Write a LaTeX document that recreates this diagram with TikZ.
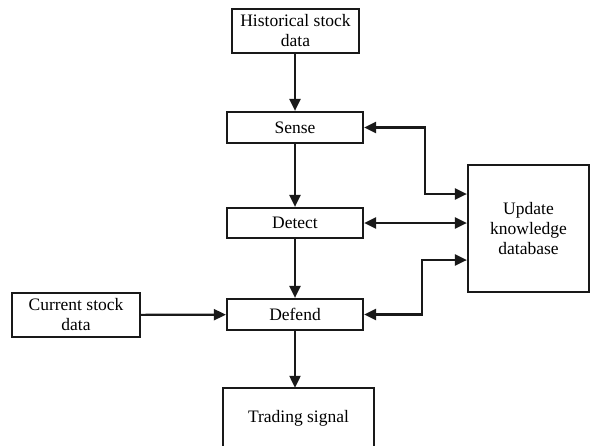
\documentclass[tikz,border=0pt]{standalone}
\usepackage{fontspec}
\setmainfont{Liberation Serif}
\usetikzlibrary{arrows.meta}
\begin{document}
\begin{tikzpicture}[x=1pt,y=-1pt,
  box/.style={draw=black!90,line width=2.2pt,rectangle,inner sep=0pt,align=center,
    font=\fontsize{17.5}{20}\selectfont},
  plain/.style={rectangle,inner sep=0pt,align=center,font=\fontsize{17.5}{20}\selectfont},
  conn/.style={line width=2.2pt,draw=black!90,-{Triangle[length=12pt,width=11pt]}},
  dconn/.style={line width=2.2pt,draw=black!90,{Triangle[length=12pt,width=11pt]}-{Triangle[length=12pt,width=11pt]}}]
\useasboundingbox (0,0) rectangle (591,445);
\fill[white] (0,0) rectangle (591,445);
\node[box,minimum width=127pt,minimum height=44pt] (hist) at (295.5,31) {Historical stock\\data};
\node[box,minimum width=136pt,minimum height=31pt] (sense) at (295,127.5) {Sense};
\node[box,minimum width=136pt,minimum height=30pt] (detect) at (295,223) {Detect};
\node[box,minimum width=136pt,minimum height=31pt] (defend) at (295,314.5) {Defend};
\node[box,minimum width=128pt,minimum height=44pt] (current) at (76,315) {Current stock\\data};
\node[box,minimum width=121pt,minimum height=127pt] (update) at (528.5,228.5) {Update\\knowledge\\database};
\node[plain,minimum width=151pt,minimum height=60pt] (trading) at (298.5,418) {Trading signal};
\draw[line width=2.2pt,draw=black!90] (trading.south west) -- (trading.north west) -- (trading.north east) -- (trading.south east);
\coordinate (a1) at (425,194);
\coordinate (a2) at (422,260);
\draw[conn] (hist.south -| sense.north) -- (sense.north);
\draw[conn] (sense) -- (detect);
\draw[conn] (detect) -- (defend);
\draw[conn] (defend.south) -- (defend.south |- trading.north);
\draw[conn] (current) -- (defend);
\draw[dconn] (sense.east) -| (a1) -- (a1 -| update.west);
\draw[dconn] (detect.east) -- (detect.east -| update.west);
\draw[dconn] (defend.east) -| (a2) -- (a2 -| update.west);
\end{tikzpicture}
\end{document}
